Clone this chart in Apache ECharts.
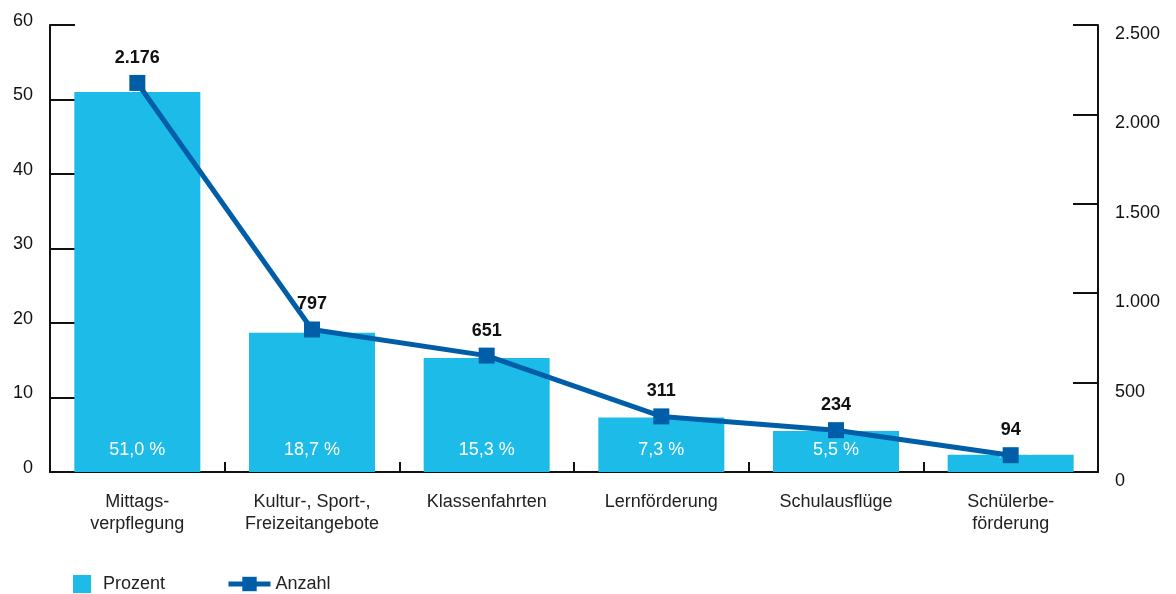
<!DOCTYPE html>
<html>
<head>
<meta charset="utf-8">
<script src="https://cdn.jsdelivr.net/npm/echarts@6/dist/echarts.min.js"></script>
<style>
  html, body { margin: 0; padding: 0; background: #fff; }
  #chart { width: 1176px; height: 594px; }
</style>
</head>
<body>
<div id="chart"></div>
<script>
// Ausgabenbereiche mit Anteil (Prozent) und Anzahl
const categories = [
  'Mittags-\nverpflegung',
  'Kultur-, Sport-,\nFreizeitangebote',
  'Klassenfahrten',
  'Lernförderung',
  'Schulausflüge',
  'Schülerbe-\nförderung'
];
const prozent = [51.0, 18.7, 15.3, 7.3, 5.5, 2.3];
const anzahl = [2176, 797, 651, 311, 234, 94];

const FONT = '"Liberation Sans", Arial, Helvetica, sans-serif';
const FS = 18;
const BAR_COLOR = '#1dbbe8';
const LINE_COLOR = '#005ea9';

// German number formats: thousands with '.', decimals with ','
const deThousands = v => String(v).replace(/\B(?=(\d{3})+(?!\d))/g, '.');
const deDecimal = v => v.toFixed(1).replace('.', ',');

const chart = echarts.init(document.getElementById('chart'));
chart.setOption({
  animation: false,
  textStyle: { fontFamily: FONT },
  grid: { left: 50, right: 78, top: 25, bottom: 122, containLabel: false },
  legend: [
    {
      data: [{ name: 'Prozent', icon: 'rect' }],
      left: 73, top: 575, padding: 0,
      itemWidth: 18, itemHeight: 18,
      textStyle: { fontFamily: FONT, fontSize: FS, color: '#222', padding: [0, 0, 0, 7] }
    },
    {
      data: [{ name: 'Anzahl', lineStyle: { width: 5 } }],
      left: 226, top: 575, padding: 0,
      itemWidth: 42, itemHeight: 18,
      textStyle: { fontFamily: FONT, fontSize: FS, color: '#222' }
    }
  ],
  xAxis: {
    type: 'category',
    data: categories,
    axisLine: { lineStyle: { color: '#111', width: 2 } },
    axisTick: { show: true, inside: true, length: 10, interval: 0, lineStyle: { color: '#111', width: 2 } },
    axisLabel: {
      fontFamily: FONT, fontSize: FS, color: '#222',
      margin: 19, lineHeight: 22, interval: 0
    }
  },
  yAxis: [
    {
      type: 'value', min: 0, max: 60, interval: 10,
      axisLine: { show: true, lineStyle: { color: '#111', width: 2 } },
      axisTick: { show: true, inside: true, length: 25, lineStyle: { color: '#111', width: 2 } },
      splitLine: { show: false },
      axisLabel: {
        fontFamily: FONT, fontSize: FS, color: '#111', margin: 17,
        verticalAlign: 'bottom', lineHeight: 8
      }
    },
    {
      type: 'value', min: 0, max: 2500, interval: 500, position: 'right',
      axisLine: { show: true, lineStyle: { color: '#111', width: 2 } },
      axisTick: { show: true, inside: true, length: 25, lineStyle: { color: '#111', width: 2 } },
      splitLine: { show: false },
      axisLabel: {
        fontFamily: FONT, fontSize: FS, color: '#111', margin: 17,
        verticalAlign: 'top',
        formatter: v => deThousands(v)
      }
    }
  ],
  series: [
    {
      name: 'Prozent',
      type: 'bar',
      yAxisIndex: 0,
      data: prozent,
      barWidth: 126,
      itemStyle: { color: BAR_COLOR },
      label: {
        show: true, position: 'insideBottom', distance: 13,
        fontFamily: FONT, fontSize: FS, color: '#fff',
        formatter: p => deDecimal(p.value) + ' %'
      },
      z: 2
    },
    {
      name: 'Anzahl',
      type: 'line',
      yAxisIndex: 1,
      data: anzahl,
      symbol: 'rect',
      symbolSize: 16,
      lineStyle: { color: LINE_COLOR, width: 5 },
      itemStyle: { color: LINE_COLOR },
      label: {
        show: true, position: 'top', distance: 8,
        fontFamily: FONT, fontSize: FS, fontWeight: 'bold', color: '#111',
        formatter: p => deThousands(p.value)
      },
      z: 3
    }
  ]
});
</script>
</body>
</html>
